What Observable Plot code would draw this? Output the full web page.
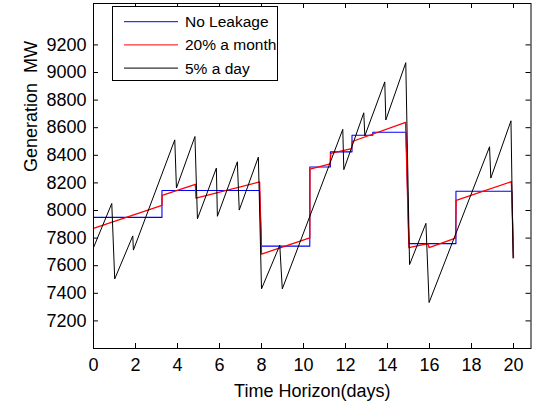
<!DOCTYPE html>
<html>
<head>
<meta charset="utf-8">
<script src="https://cdn.jsdelivr.net/npm/d3@7"></script>
<script src="https://cdn.jsdelivr.net/npm/@observablehq/plot@0.6"></script>
<style>
  html, body { margin: 0; padding: 0; background: #fff; }
  #chart { width: 537px; height: 403px; }
</style>
</head>
<body>
<div id="chart"></div>
<script>
// ---- data ----
const seriesNames = ["No Leakage", "20% a month", "5% a day"];

// No Leakage (step profile)
const blueDays = [0, 3.26, 3.26, 7.91, 8.0, 10.3, 10.3, 11.28, 11.28, 12.31, 12.31, 13.3, 13.3, 14.88, 15.02, 17.26, 17.26, 19.92, 20.0];
const blueMW   = [7950, 7950, 8145, 8145, 7742, 7742, 8315, 8315, 8425, 8425, 8545, 8545, 8567, 8567, 7760, 7760, 8140, 8140, 7660];

// 20% a month
const redDays = [0, 3.26, 3.27, 4.85, 4.88, 7.91, 8.0, 10.3, 10.31, 11.27, 11.3, 12.29, 12.32, 14.86, 15.02, 15.93, 15.98, 17.24, 17.27, 19.9, 20.0];
const redMW   = [7871, 8037, 8109, 8190, 8089, 8207, 7684, 7801, 8300, 8338, 8414, 8449, 8500, 8639, 7731, 7760, 7731, 7800, 8073, 8209, 7660];

// 5% a day
const blackDays = [0, 0.87, 1.01, 1.87, 1.90, 3.87, 3.95, 4.83, 4.95, 5.85, 5.90, 6.85, 6.94, 7.85, 8.0, 8.87, 8.99, 11.87, 11.92, 12.87, 12.92, 13.87, 13.92, 14.87, 15.05, 15.83, 15.98, 18.86, 18.92, 19.88, 19.98];
const blackMW   = [7731, 8051, 7504, 7816, 7713, 8512, 8163, 8536, 7940, 8307, 7958, 8353, 8003, 8387, 7432, 7748, 7432, 8588, 8296, 8708, 8541, 8932, 8656, 9071, 7608, 7907, 7333, 8462, 8235, 8650, 7655];

const xTicks = [0, 2, 4, 6, 8, 10, 12, 14, 16, 18, 20];
const yTicks = [7200, 7400, 7600, 7800, 8000, 8200, 8400, 8600, 8800, 9000, 9200];
const xLabel = "Time Horizon(days)";
const yLabel = "Generation  MW";

// ---- build ----
const toRows = (xs, ys) => xs.map((d, i) => ({day: d, mw: ys[i]}));
const blueRows = toRows(blueDays, blueMW);
const redRows = toRows(redDays, redMW);
const blackRows = toRows(blackDays, blackMW);
const colors = ["#0000ff", "#ff0000", "#000000"];

const W = 537, H = 403;
const mL = 93, mR = 6.5, mT = 3, mB = 55;
const frameW = W - mL - mR, frameH = H - mT - mB;
const tick = 5;

const chart = Plot.plot({
  width: W,
  height: H,
  marginLeft: mL,
  marginRight: mR,
  marginTop: mT,
  marginBottom: mB,
  style: {fontFamily: "'Liberation Sans', Arial, Helvetica, sans-serif", fontSize: "18px", color: "#000", background: "#fff", overflow: "visible"},
  x: {domain: [0, 500 / 24]},
  y: {domain: [7000, 9500]},
  marks: [
    Plot.line(blueRows, {x: "day", y: "mw", stroke: colors[0], strokeWidth: 1.1}),
    Plot.line(redRows, {x: "day", y: "mw", stroke: colors[1], strokeWidth: 1.3}),
    Plot.line(blackRows, {x: "day", y: "mw", stroke: colors[2], strokeWidth: 1}),
    // inward ticks, all four sides
    Plot.tickX(xTicks, {x: d => d, insetTop: frameH - tick, stroke: "#000"}),
    Plot.tickX(xTicks, {x: d => d, insetBottom: frameH - tick, stroke: "#000"}),
    Plot.tickY(yTicks, {y: d => d, insetRight: frameW - tick, stroke: "#000"}),
    Plot.tickY(yTicks, {y: d => d, insetLeft: frameW - tick, stroke: "#000"}),
    Plot.axisX(xTicks, {tickSize: 0, tickPadding: 10, label: null, fontSize: 18}),
    Plot.axisY(yTicks, {tickSize: 0, tickPadding: 7, label: null, fontSize: 18, tickFormat: d => String(d)}),
    Plot.frame({stroke: "#000", strokeWidth: 1}),
    Plot.text([xLabel], {frameAnchor: "bottom", dy: 36, text: d => d, fontSize: 18, lineAnchor: "top"}),
    Plot.text([yLabel], {frameAnchor: "left", dx: -62, dy: -4, rotate: -90, text: d => d, fontSize: 18})
  ]
});

document.getElementById("chart").appendChild(chart);

// ---- legend (MATLAB-style box inside the axes) ----
const svg = d3.select(chart);
const lg = svg.append("g")
  .attr("font-family", "'Liberation Sans', Arial, Helvetica, sans-serif")
  .attr("font-size", "15.5px")
  .attr("text-anchor", "start");
lg.append("rect").attr("x", 112.5).attr("y", 6.5).attr("width", 165).attr("height", 74)
  .attr("fill", "#fff").attr("stroke", "#000").attr("stroke-width", 1);
seriesNames.forEach((name, i) => {
  const y = 21.7 + i * 23.2;
  lg.append("line").attr("x1", 124).attr("x2", 178).attr("y1", y).attr("y2", y)
    .attr("stroke", colors[i]).attr("stroke-width", 1);
  lg.append("text").attr("x", 185).attr("y", y).attr("dy", "0.35em")
    .attr("text-anchor", "start").attr("fill", "#000").text(name);
});
</script>
</body>
</html>
